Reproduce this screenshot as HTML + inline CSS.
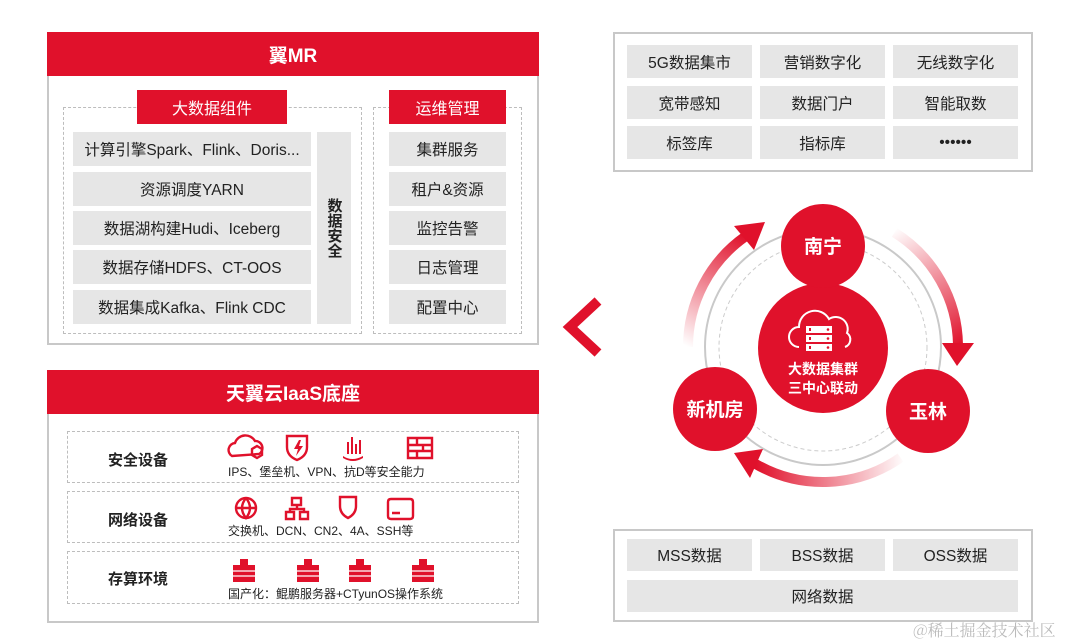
<!DOCTYPE html>
<html><head><meta charset="utf-8">
<style>
*{margin:0;padding:0;box-sizing:border-box}
body{width:1080px;height:643px;background:#fff;position:relative;overflow:hidden;font-family:"Liberation Sans","Noto Sans CJK SC",sans-serif;color:#222}
.a{position:absolute}
.box{position:absolute;border:2px solid #c8c8c8;background:#fff}
.hdr{position:absolute;background:#e0112b;color:#fff;font-weight:bold;font-size:19px;display:flex;align-items:center;justify-content:center}
.lab{position:absolute;background:#e0112b;color:#fff;font-size:16px;display:flex;align-items:center;justify-content:center}
.cell{position:absolute;background:#e6e6e6;font-size:15.5px;display:flex;align-items:center;justify-content:center;color:#222}
.dash{position:absolute;border:1.5px dashed #bdbdbd}
.rl{position:absolute;font-size:15px;font-weight:bold;color:#222}
.sub{position:absolute;font-size:12px;color:#222}
</style></head><body>

<div class="box" style="left:47px;top:32px;width:492px;height:313px"></div>
<div class="hdr" style="left:47px;top:32px;width:492px;height:44px">翼MR</div>
<div class="dash" style="left:63px;top:107px;width:299px;height:227px"></div>
<div class="dash" style="left:373px;top:107px;width:149px;height:227px"></div>
<div class="lab" style="left:137px;top:90px;width:150px;height:34px">大数据组件</div>
<div class="lab" style="left:389px;top:90px;width:117px;height:34px">运维管理</div>
<div class="cell" style="left:73px;top:132px;width:238px;height:34px">计算引擎Spark、Flink、Doris...</div>
<div class="cell" style="left:73px;top:172px;width:238px;height:34px">资源调度YARN</div>
<div class="cell" style="left:73px;top:211px;width:238px;height:34px">数据湖构建Hudi、Iceberg</div>
<div class="cell" style="left:73px;top:250px;width:238px;height:34px">数据存储HDFS、CT-OOS</div>
<div class="cell" style="left:73px;top:290px;width:238px;height:34px">数据集成Kafka、Flink CDC</div>
<div class="cell" style="left:317px;top:132px;width:34px;height:192px;writing-mode:vertical-rl;text-orientation:upright;font-weight:bold;font-size:15px;line-height:1">数据安全</div>
<div class="cell" style="left:389px;top:132px;width:117px;height:34px">集群服务</div>
<div class="cell" style="left:389px;top:172px;width:117px;height:34px">租户&amp;资源</div>
<div class="cell" style="left:389px;top:211px;width:117px;height:34px">监控告警</div>
<div class="cell" style="left:389px;top:250px;width:117px;height:34px">日志管理</div>
<div class="cell" style="left:389px;top:290px;width:117px;height:34px">配置中心</div>

<div class="box" style="left:47px;top:370px;width:492px;height:253px"></div>
<div class="hdr" style="left:47px;top:370px;width:492px;height:44px">天翼云IaaS底座</div>
<div class="dash" style="left:67px;top:431px;width:452px;height:52px"></div>
<div class="dash" style="left:67px;top:491px;width:452px;height:52px"></div>
<div class="dash" style="left:67px;top:551px;width:452px;height:53px"></div>
<div class="rl" style="left:108px;top:449px">安全设备</div>
<div class="rl" style="left:108px;top:509px">网络设备</div>
<div class="rl" style="left:108px;top:568px">存算环境</div>
<div class="sub" style="left:228px;top:463px">IPS、堡垒机、VPN、抗D等安全能力</div>
<div class="sub" style="left:228px;top:522px">交换机、DCN、CN2、4A、SSH等</div>
<div class="sub" style="left:228px;top:585px">国产化：鲲鹏服务器+CTyunOS操作系统</div>
<svg class="a" style="left:0;top:0" width="540" height="643">
 <g fill="none" stroke="#e0112b" stroke-width="2.4">
  <path d="M232 456 a7 7 0 0 1 3-13 a11 11 0 0 1 20-2 a7 7 0 0 1 4 13 z"/>
  <path d="M252 449 l5-3 5 3 v6 l-5 3 -5-3z"/>
  <path d="M287 436 h20 v11 q0 9 -10 13 q-10-4 -10-13z"/>
  <path d="M408 438 h24 v20 h-24z M408 445 h24 M408 451 h24 M417 438 v7 M423 445 v6 M417 451 v7"/>
  <circle cx="246" cy="508" r="10"/><path d="M236 508 h20 M246 498 q-8 10 0 20 q8-10 0-20"/>
  <path d="M292 498 h9 v7 h-9z M286 512 h8 v7 h-8z M300 512 h8 v7 h-8z M297 505 v4 M290 512 v-3 h14 v3"/>
  <path d="M340 497 h16 v9 q0 8 -8 12 q-8-4 -8-12z"/>
  <path d="M391 499 h19 q3 0 3 3 v14 q0 3-3 3 h-19 q-3 0-3-3 v-14 q0-3 3-3z M392 513 h8"/>
 </g>
 <g fill="#e0112b">
  <path d="M347 454 v-12 h2 v12z M351 454 v-17 h2 v17z M355 454 v-10 h2 v10z M359 454 v-14 h2 v14z M343 456 q9 6 20 0 v2 q-10 6-20 0z"/>
  <path d="M299 440 l-5 9 h4 l-2 7 7-10 h-4 l2-6z"/>
 </g>
 <g fill="#e0112b">
  <rect x="240" y="559" width="8" height="23"/><rect x="233" y="565" width="7" height="17"/><rect x="248" y="565" width="7" height="17"/>
  <rect x="304" y="559" width="8" height="23"/><rect x="297" y="565" width="7" height="17"/><rect x="312" y="565" width="7" height="17"/>
  <rect x="356" y="559" width="8" height="23"/><rect x="349" y="565" width="7" height="17"/><rect x="364" y="565" width="7" height="17"/>
  <rect x="419" y="559" width="8" height="23"/><rect x="412" y="565" width="7" height="17"/><rect x="427" y="565" width="7" height="17"/>
 </g>
 <g stroke="#fff" stroke-width="1.2">
  <path d="M233 571 h22 M233 576 h22 M297 571 h22 M297 576 h22 M349 571 h22 M349 576 h22 M412 571 h22 M412 576 h22"/>
 </g>
</svg>

<div class="box" style="left:613px;top:32px;width:420px;height:140px"></div>
<div class="cell" style="left:627px;top:45px;width:125px;height:33px">5G数据集市</div>
<div class="cell" style="left:760px;top:45px;width:125px;height:33px">营销数字化</div>
<div class="cell" style="left:893px;top:45px;width:125px;height:33px">无线数字化</div>
<div class="cell" style="left:627px;top:86px;width:125px;height:33px">宽带感知</div>
<div class="cell" style="left:760px;top:86px;width:125px;height:33px">数据门户</div>
<div class="cell" style="left:893px;top:86px;width:125px;height:33px">智能取数</div>
<div class="cell" style="left:627px;top:126px;width:125px;height:33px">标签库</div>
<div class="cell" style="left:760px;top:126px;width:125px;height:33px">指标库</div>
<div class="cell" style="left:893px;top:126px;width:125px;height:33px">••••••</div>

<div class="box" style="left:613px;top:529px;width:420px;height:93px"></div>
<div class="cell" style="left:627px;top:539px;width:125px;height:32px">MSS数据</div>
<div class="cell" style="left:760px;top:539px;width:125px;height:32px">BSS数据</div>
<div class="cell" style="left:893px;top:539px;width:125px;height:32px">OSS数据</div>
<div class="cell" style="left:627px;top:580px;width:391px;height:32px">网络数据</div>
<div class="a" style="left:913px;top:618px;font-family:'Noto Serif CJK SC','Liberation Serif',serif;font-size:16px;color:#bbb">@稀土掘金技术社区</div>

<svg class="a" style="left:0;top:0" width="1080" height="643">
 <defs>
  <linearGradient id="g1" gradientUnits="userSpaceOnUse" x1="890" y1="232" x2="958" y2="347"><stop offset="0" stop-color="#e0112b" stop-opacity="0"/><stop offset="1" stop-color="#e0112b"/></linearGradient>
  <linearGradient id="g2" gradientUnits="userSpaceOnUse" x1="688" y1="347" x2="746" y2="236"><stop offset="0" stop-color="#e0112b" stop-opacity="0"/><stop offset="1" stop-color="#e0112b"/></linearGradient>
  <linearGradient id="g3" gradientUnits="userSpaceOnUse" x1="905" y1="460" x2="756" y2="464"><stop offset="0" stop-color="#e0112b" stop-opacity="0"/><stop offset="1" stop-color="#e0112b"/></linearGradient>
 </defs>
 <path d="M598 301 L570 327 L598 353" fill="none" stroke="#e0112b" stroke-width="10"/>
 <circle cx="823" cy="347" r="118" fill="none" stroke="#c9c9c9" stroke-width="2"/>
 <circle cx="823" cy="347" r="104" fill="none" stroke="#ccc" stroke-width="1" stroke-dasharray="4 3"/>
 <path d="M894.5 232.5 A135 135 0 0 1 958 345" fill="none" stroke="url(#g1)" stroke-width="10"/>
 <path d="M942 343 L974 343 L957 366 Z" fill="#e0112b"/>
 <path d="M688 347 A135 135 0 0 1 745.5 236.4" fill="none" stroke="url(#g2)" stroke-width="10"/>
 <path d="M734 226 L765 222 L754 250 Z" fill="#e0112b"/>
 <path d="M900.5 457.6 A135 135 0 0 1 755.5 463.9" fill="none" stroke="url(#g3)" stroke-width="10"/>
 <path d="M734 453 L763 449 L750 478 Z" fill="#e0112b"/>
 <circle cx="823" cy="348" r="65" fill="#e0112b"/>
 <circle cx="823" cy="246" r="42" fill="#e0112b"/>
 <circle cx="715" cy="409" r="42" fill="#e0112b"/>
 <circle cx="928" cy="411" r="42" fill="#e0112b"/>
 <path d="M799 347 a10 10 0 0 1 0-20 a16 16 0 0 1 30-8 a12 12 0 0 1 18 14 a8 8 0 0 1 -2 14" fill="none" stroke="#fff" stroke-width="2"/>
 <g fill="#fff"><rect x="806" y="326" width="26" height="7"/><rect x="806" y="335" width="26" height="7"/><rect x="806" y="344" width="26" height="7"/></g>
 <g fill="#e0112b"><rect x="809" y="328" width="2" height="3"/><rect x="809" y="337" width="2" height="3"/><rect x="809" y="346" width="2" height="3"/><circle cx="828" cy="329.5" r="1.3"/><circle cx="828" cy="338.5" r="1.3"/><circle cx="828" cy="347.5" r="1.3"/></g>
 <g fill="#fff" font-family="Liberation Sans,Noto Sans CJK SC,sans-serif" font-weight="bold" text-anchor="middle">
  <text x="823" y="374" font-size="14">大数据集群</text>
  <text x="823" y="393" font-size="14">三中心联动</text>
  <text x="823" y="253" font-size="19">南宁</text>
  <text x="715" y="416" font-size="19">新机房</text>
  <text x="928" y="418" font-size="19">玉林</text>
 </g>
</svg>
</body></html>
